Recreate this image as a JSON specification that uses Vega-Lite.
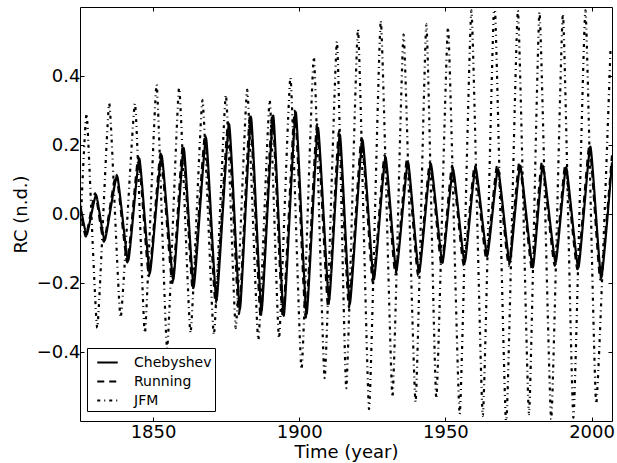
{
  "$schema": "https://vega.github.io/schema/vega-lite/v6.json",
  "width": 532,
  "height": 414,
  "autosize": "none",
  "padding": {"left": 80, "top": 7, "right": 5, "bottom": 42},
  "background": "white",
  "config": {"view": {"stroke": "black", "strokeWidth": 1}, "font": "DejaVu Sans"},
  "data": {"values": [
    {"s":"JFM","t":1825,"v":-0.07},{"s":"JFM","t":1827.3,"v":0.29},{"s":"JFM","t":1830.9,"v":-0.33},{"s":"JFM","t":1835.0,"v":0.32},
    {"s":"JFM","t":1838.9,"v":-0.30},{"s":"JFM","t":1843.8,"v":0.32},{"s":"JFM","t":1847.2,"v":-0.345},{"s":"JFM","t":1851.2,"v":0.375},
    {"s":"JFM","t":1854.8,"v":-0.39},{"s":"JFM","t":1858.9,"v":0.365},{"s":"JFM","t":1862.8,"v":-0.345},{"s":"JFM","t":1866.9,"v":0.33},
    {"s":"JFM","t":1870.8,"v":-0.35},{"s":"JFM","t":1874.9,"v":0.345},{"s":"JFM","t":1878.3,"v":-0.33},{"s":"JFM","t":1882.2,"v":0.36},
    {"s":"JFM","t":1886.0,"v":-0.365},{"s":"JFM","t":1889.9,"v":0.33},{"s":"JFM","t":1893.1,"v":-0.36},{"s":"JFM","t":1897.0,"v":0.395},
    {"s":"JFM","t":1900.8,"v":-0.45},{"s":"JFM","t":1905.0,"v":0.455},{"s":"JFM","t":1908.7,"v":-0.475},{"s":"JFM","t":1912.9,"v":0.5},
    {"s":"JFM","t":1916.1,"v":-0.505},{"s":"JFM","t":1920.1,"v":0.535},{"s":"JFM","t":1923.9,"v":-0.565},{"s":"JFM","t":1927.9,"v":0.56},
    {"s":"JFM","t":1931.9,"v":-0.53},{"s":"JFM","t":1935.7,"v":0.52},{"s":"JFM","t":1939.8,"v":-0.545},{"s":"JFM","t":1943.5,"v":0.55},
    {"s":"JFM","t":1946.9,"v":-0.535},{"s":"JFM","t":1950.9,"v":0.54},{"s":"JFM","t":1954.9,"v":-0.58},{"s":"JFM","t":1958.9,"v":0.59},
    {"s":"JFM","t":1962.8,"v":-0.585},{"s":"JFM","t":1966.8,"v":0.62},{"s":"JFM","t":1970.8,"v":-0.61},{"s":"JFM","t":1974.8,"v":0.59},
    {"s":"JFM","t":1978.6,"v":-0.58},{"s":"JFM","t":1982.2,"v":0.585},{"s":"JFM","t":1986.2,"v":-0.595},{"s":"JFM","t":1990.2,"v":0.58},
    {"s":"JFM","t":1993.8,"v":-0.59},{"s":"JFM","t":1997.9,"v":0.59},{"s":"JFM","t":2001.6,"v":-0.55},{"s":"JFM","t":2006.5,"v":0.48},

    {"s":"Running","t":1825,"v":0.02},{"s":"Running","t":1827.0,"v":-0.065},{"s":"Running","t":1830.2,"v":0.06},{"s":"Running","t":1833.2,"v":-0.08},
    {"s":"Running","t":1837.4,"v":0.115},{"s":"Running","t":1841.2,"v":-0.14},{"s":"Running","t":1845.0,"v":0.165},{"s":"Running","t":1848.6,"v":-0.18},
    {"s":"Running","t":1852.6,"v":0.175},{"s":"Running","t":1856.6,"v":-0.2},{"s":"Running","t":1860.2,"v":0.2},{"s":"Running","t":1863.6,"v":-0.22},
    {"s":"Running","t":1867.8,"v":0.23},{"s":"Running","t":1871.4,"v":-0.26},{"s":"Running","t":1875.7,"v":0.265},{"s":"Running","t":1879.4,"v":-0.29},
    {"s":"Running","t":1883.2,"v":0.29},{"s":"Running","t":1886.8,"v":-0.3},{"s":"Running","t":1890.8,"v":0.29},{"s":"Running","t":1894.4,"v":-0.3},
    {"s":"Running","t":1898.5,"v":0.3},{"s":"Running","t":1902.2,"v":-0.3},{"s":"Running","t":1906.1,"v":0.26},{"s":"Running","t":1909.9,"v":-0.27},
    {"s":"Running","t":1913.6,"v":0.24},{"s":"Running","t":1917.0,"v":-0.27},{"s":"Running","t":1921.3,"v":0.22},{"s":"Running","t":1925.2,"v":-0.2},
    {"s":"Running","t":1929.2,"v":0.17},{"s":"Running","t":1932.9,"v":-0.175},{"s":"Running","t":1936.9,"v":0.16},{"s":"Running","t":1940.7,"v":-0.18},
    {"s":"Running","t":1944.7,"v":0.15},{"s":"Running","t":1948.7,"v":-0.15},{"s":"Running","t":1952.3,"v":0.14},{"s":"Running","t":1956.3,"v":-0.15},
    {"s":"Running","t":1960.0,"v":0.14},{"s":"Running","t":1964.0,"v":-0.13},{"s":"Running","t":1967.7,"v":0.14},{"s":"Running","t":1971.7,"v":-0.15},
    {"s":"Running","t":1975.3,"v":0.15},{"s":"Running","t":1979.6,"v":-0.16},{"s":"Running","t":1983.0,"v":0.15},{"s":"Running","t":1987.4,"v":-0.15},
    {"s":"Running","t":1991.0,"v":0.14},{"s":"Running","t":1995.2,"v":-0.16},{"s":"Running","t":1999.3,"v":0.2},{"s":"Running","t":2003.0,"v":-0.19},
    {"s":"Running","t":2007,"v":0.17},

    {"s":"Chebyshev","t":1825,"v":0.03},{"s":"Chebyshev","t":1827.3,"v":-0.06},{"s":"Chebyshev","t":1830.5,"v":0.055},{"s":"Chebyshev","t":1833.5,"v":-0.075},
    {"s":"Chebyshev","t":1837.7,"v":0.11},{"s":"Chebyshev","t":1841.5,"v":-0.135},{"s":"Chebyshev","t":1845.3,"v":0.16},{"s":"Chebyshev","t":1848.9,"v":-0.17},
    {"s":"Chebyshev","t":1852.9,"v":0.17},{"s":"Chebyshev","t":1856.9,"v":-0.19},{"s":"Chebyshev","t":1860.5,"v":0.19},{"s":"Chebyshev","t":1863.9,"v":-0.21},
    {"s":"Chebyshev","t":1868.1,"v":0.22},{"s":"Chebyshev","t":1871.7,"v":-0.25},{"s":"Chebyshev","t":1876.0,"v":0.26},{"s":"Chebyshev","t":1879.7,"v":-0.275},
    {"s":"Chebyshev","t":1883.5,"v":0.28},{"s":"Chebyshev","t":1887.1,"v":-0.28},{"s":"Chebyshev","t":1891.1,"v":0.285},{"s":"Chebyshev","t":1894.7,"v":-0.295},
    {"s":"Chebyshev","t":1898.8,"v":0.295},{"s":"Chebyshev","t":1902.5,"v":-0.29},{"s":"Chebyshev","t":1906.4,"v":0.25},{"s":"Chebyshev","t":1910.2,"v":-0.25},
    {"s":"Chebyshev","t":1913.9,"v":0.23},{"s":"Chebyshev","t":1917.3,"v":-0.26},{"s":"Chebyshev","t":1921.6,"v":0.215},{"s":"Chebyshev","t":1925.5,"v":-0.19},
    {"s":"Chebyshev","t":1929.5,"v":0.165},{"s":"Chebyshev","t":1933.2,"v":-0.165},{"s":"Chebyshev","t":1937.2,"v":0.15},{"s":"Chebyshev","t":1941.0,"v":-0.17},
    {"s":"Chebyshev","t":1945.0,"v":0.145},{"s":"Chebyshev","t":1949.0,"v":-0.14},{"s":"Chebyshev","t":1952.6,"v":0.13},{"s":"Chebyshev","t":1956.6,"v":-0.14},
    {"s":"Chebyshev","t":1960.3,"v":0.135},{"s":"Chebyshev","t":1964.3,"v":-0.12},{"s":"Chebyshev","t":1968.0,"v":0.13},{"s":"Chebyshev","t":1972.0,"v":-0.14},
    {"s":"Chebyshev","t":1975.6,"v":0.14},{"s":"Chebyshev","t":1979.9,"v":-0.155},{"s":"Chebyshev","t":1983.3,"v":0.14},{"s":"Chebyshev","t":1987.7,"v":-0.14},
    {"s":"Chebyshev","t":1991.3,"v":0.135},{"s":"Chebyshev","t":1995.5,"v":-0.155},{"s":"Chebyshev","t":1999.6,"v":0.195},{"s":"Chebyshev","t":2003.3,"v":-0.185},
    {"s":"Chebyshev","t":2007,"v":0.15}
  ]},
  "layer": [
    {
      "mark": {"type": "line", "clip": true, "strokeWidth": 2.2, "color": "black", "interpolate": "cardinal", "tension": 0.55},
      "encoding": {
        "x": {"field": "t", "type": "quantitative",
              "scale": {"domain": [1825, 2007], "nice": false, "zero": false},
              "axis": {"title": "Time (year)", "values": [1850, 1900, 1950, 2000], "format": "d", "grid": false,
                       "domain": false, "tickSize": -4, "tickColor": "black", "labelPadding": 6, "labelFontSize": 18,
                       "labelColor": "black", "titleFontSize": 18, "titleFontWeight": "normal", "titleColor": "black",
                       "titlePadding": 2, "labelFont": "DejaVu Sans", "titleFont": "DejaVu Sans"}},
        "y": {"field": "v", "type": "quantitative",
              "scale": {"domain": [-0.6, 0.6], "nice": false, "zero": false},
              "axis": {"title": "RC (n.d.)", "values": [-0.4, -0.2, 0, 0.2, 0.4], "format": ".1f", "grid": false,
                       "domain": false, "tickSize": -4, "tickColor": "black", "labelPadding": 4, "labelFontSize": 18,
                       "labelColor": "black", "titleFontSize": 18, "titleFontWeight": "normal", "titleColor": "black",
                       "titlePadding": 6, "labelFont": "DejaVu Sans", "titleFont": "DejaVu Sans"}},
        "strokeDash": {"field": "s", "type": "nominal",
                       "scale": {"domain": ["Chebyshev", "Running", "JFM"], "range": [[1, 0], [7, 5], [3, 4, 1, 4]]},
                       "legend": {"title": null, "orient": "none", "legendX": 7, "legendY": 341,
                                  "fillColor": "white", "strokeColor": "black", "cornerRadius": 0, "padding": 3,
                                  "symbolType": "stroke", "symbolSize": 420, "symbolStrokeWidth": 2.2, "symbolStrokeColor": "black",
                                  "symbolOffset": 6, "labelOffset": 15, "labelFontSize": 14, "labelFont": "DejaVu Sans",
                                  "labelColor": "black", "rowPadding": 0}}
      }
    },
    {
      "mark": {"type": "point", "opacity": 0},
      "encoding": {
        "x": {"field": "t", "type": "quantitative",
              "axis": {"orient": "top", "title": null, "labels": false, "values": [1850, 1900, 1950, 2000], "grid": false,
                       "domain": false, "tickSize": -4, "tickColor": "black"}},
        "y": {"field": "v", "type": "quantitative",
              "axis": {"orient": "right", "title": null, "labels": false, "values": [-0.4, -0.2, 0, 0.2, 0.4], "grid": false,
                       "domain": false, "tickSize": -4, "tickColor": "black"}}
      }
    }
  ],
  "resolve": {"axis": {"x": "independent", "y": "independent"}}
}
